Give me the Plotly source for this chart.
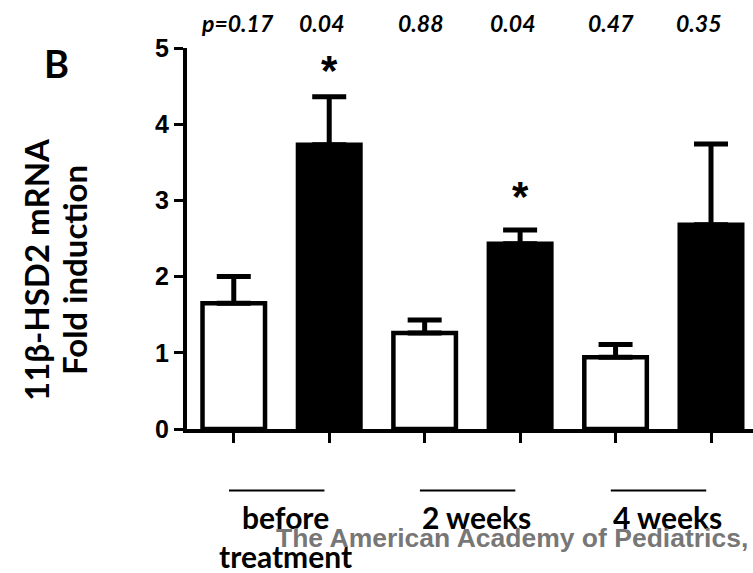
import plotly.graph_objects as go

# ---- data ----
bar_index = [0, 1, 2, 3, 4, 5]
means = [1.65, 3.73, 1.26, 2.43, 0.94, 2.68]
sem = [0.35, 0.63, 0.17, 0.18, 0.17, 1.06]
bar_colors = ["white", "black", "white", "black", "white", "black"]
p_labels = ["p=0.17", "0.04", "0.88", "0.04", "0.47", "0.35"]
groups = ["before<br>treatment", "2 weeks", "4 weeks"]
star_bars = [1, 3]
star_y = [4.80, 3.14]
y_ticks = [0, 1, 2, 3, 4, 5]

CAL = "Lato, 'Open Sans', sans-serif"
ARIAL = "'Liberation Sans', Arial, sans-serif"

W, H = 753, 573
ml, mr, mt, mb = 187, 0, 48, 144
PW = W - ml - mr
PH = H - mt - mb


def px_x(px):
    return (px - ml) / PW


def px_y(py):
    return (H - mb - py) / PH


fig = go.Figure()
fig.add_trace(go.Bar(
    x=bar_index, y=means, width=0.655,
    marker=dict(color=bar_colors, line=dict(color="black", width=4.5)),
    error_y=dict(type="data", array=sem, arrayminus=[0] * len(sem), symmetric=False,
                 color="black", thickness=5, width=17),
    showlegend=False, hoverinfo="skip",
))

annotations = []
# p-values
p_shift = [4, -7, -4, -7, -5, -12]
for i, lab in enumerate(p_labels):
    annotations.append(dict(x=bar_index[i], xref="x", y=px_y(23), yref="paper", text="<b><i>" + lab + "</i></b>",
                            showarrow=False, xshift=p_shift[i], xanchor="center", yanchor="middle",
                            font=dict(family=CAL, size=23, color="black")))
# asterisks
for b, yy in zip(star_bars, star_y):
    annotations.append(dict(x=bar_index[b], xref="x", y=yy, yref="y", text="<b>*</b>", showarrow=False,
                            xanchor="center", yanchor="middle",
                            font=dict(family=ARIAL, size=42, color="black"), yshift=-7))
# group labels and lines
shapes = []
for g, lab in enumerate(groups):
    x0 = bar_index[2 * g] - 0.05
    x1 = bar_index[2 * g + 1] - 0.05
    shapes.append(dict(type="line", xref="x", yref="paper", x0=x0, x1=x1, y0=px_y(490.5), y1=px_y(490.5),
                       line=dict(color="black", width=2)))
    annotations.append(dict(x=(bar_index[2 * g] + bar_index[2 * g + 1]) / 2, xref="x", y=px_y(497), yref="paper",
                            text="<b>" + lab + "</b>", showarrow=False, xshift=4, xanchor="center",
                            yanchor="top", align="center",
                            font=dict(family=CAL, size=30, color="black")))
# watermark
annotations.append(dict(x=px_x(274), xref="paper", y=px_y(521), yref="paper",
                        text="<b>The American Academy of Pediatrics,</b>", showarrow=False,
                        xanchor="left", yanchor="top",
                        font=dict(family=ARIAL, size=26.5, color="rgba(110,110,110,0.95)")))
# panel letter
annotations.append(dict(x=px_x(56), xref="paper", y=px_y(63), yref="paper", text="<b>B</b>",
                        xanchor="center", yanchor="middle",
                        showarrow=False, font=dict(family=CAL, size=38, color="black")))
# y title (two lines)
annotations.append(dict(x=px_x(36), xref="paper", y=px_y(270), yref="paper",
                        text="<b>11β-HSD2 mRNA</b>", textangle=-90, showarrow=False,
                        xanchor="center", yanchor="middle",
                        font=dict(family=CAL, size=33, color="black")))
annotations.append(dict(x=px_x(74), xref="paper", y=px_y(270), yref="paper",
                        text="<b>Fold induction</b>", textangle=-90, showarrow=False,
                        xanchor="center", yanchor="middle",
                        font=dict(family=CAL, size=33, color="black")))

fig.update_layout(
    width=W, height=H, margin=dict(l=ml, r=mr, t=mt, b=mb, autoexpand=False),
    paper_bgcolor="white", plot_bgcolor="white",
    annotations=annotations, shapes=shapes,
    xaxis=dict(range=[-0.49, 5.44], tickvals=bar_index, showticklabels=False, ticks="outside",
               ticklen=10, tickwidth=3, tickcolor="black", showline=True, linewidth=4, linecolor="black",
               showgrid=False, zeroline=False, fixedrange=True),
    yaxis=dict(range=[0, 5], tickvals=y_ticks, ticks="outside", ticklen=9, tickwidth=3, tickcolor="black",
               showline=True, linewidth=4, linecolor="black", showgrid=False, zeroline=False,
               tickfont=dict(family=ARIAL, size=25, color="black", weight="bold"), fixedrange=True),
)
fig.write_html("out.html", config={"staticPlot": True},
               post_script="document.body.style.margin='0px';document.body.style.overflow='hidden';")
